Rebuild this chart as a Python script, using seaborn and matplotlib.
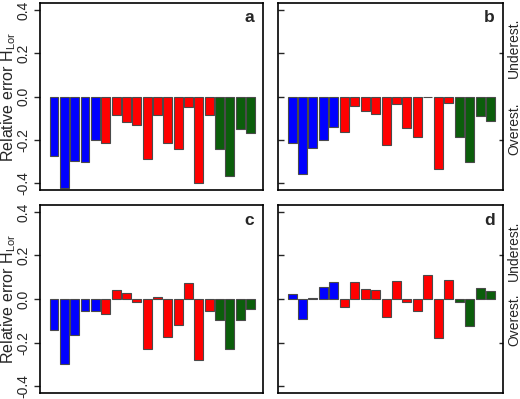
import numpy as np
import pandas as pd
import matplotlib
matplotlib.use("Agg")
import matplotlib.pyplot as plt
import seaborn as sns

# skupiny: 5 modrych, 11 cervenych, 4 zelene
groups = ["blue"] * 5 + ["red"] * 11 + ["green"] * 4

vals_a = [-0.274, -0.423, -0.296, -0.304, -0.200,
          -0.216, -0.086, -0.120, -0.131, -0.290, -0.085, -0.213, -0.243, -0.050, -0.401, -0.086,
          -0.244, -0.369, -0.152, -0.167]
vals_b = [-0.216, -0.357, -0.237, -0.200, -0.143,
          -0.166, -0.043, -0.069, -0.080, -0.226, -0.035, -0.146, -0.187, -0.003, -0.335, -0.031,
          -0.187, -0.304, -0.089, -0.115]
vals_c = [-0.144, -0.298, -0.164, -0.053, -0.056,
          -0.071, 0.041, 0.026, -0.012, -0.228, 0.009, -0.173, -0.119, 0.074, -0.281, -0.053,
          -0.096, -0.228, -0.096, -0.047]
vals_d = [0.021, -0.091, 0.003, 0.056, 0.076,
          -0.035, 0.078, 0.047, 0.041, -0.081, 0.082, -0.015, -0.053, 0.109, -0.181, 0.088,
          -0.015, -0.123, 0.049, 0.038]

panel_labels = ["a", "b", "c", "d"]
yticks = [-0.4, -0.2, 0.0, 0.2, 0.4]
ytick_labels = ["-0.4", "-0.2", "0.0", "0.2", "0.4"]
barvy = {"blue": "#0000FF", "red": "#FF0000", "green": "#0B5E0B"}

sns.set_style("white")
plt.rcParams["font.family"] = ["Liberation Sans", "DejaVu Sans"]
plt.rcParams["axes.unicode_minus"] = False

fig = plt.figure(figsize=(5.2, 3.99), dpi=100)

# pozice panelu v pixelech (vlevo, nahore, vpravo, dole)
boxy = [(40, 3, 263, 190), (278, 3, 503, 190), (40, 205, 263, 393), (278, 205, 503, 393)]
under_over = {1: (0.76, 0.326), 3: (0.755, 0.388)}

for i, vals in enumerate([vals_a, vals_b, vals_c, vals_d]):
    l, t, r, b = boxy[i]
    ax = fig.add_axes([l / 520, 1 - b / 399, (r - l) / 520, (b - t) / 399])
    df = pd.DataFrame({"idx": list(range(20)), "val": vals, "grp": groups})
    sns.barplot(data=df, x="idx", y="val", hue="grp", palette=barvy, dodge=False,
                saturation=1, width=0.86, edgecolor="#4a4a4a", linewidth=0.8,
                errorbar=None, legend=False, ax=ax)
    ax.set_xlim(-1.35, 20.2)
    ax.set_ylim(-0.432, 0.432)
    ax.set_xticks([])
    ax.set_xlabel("")
    ax.set_yticks(yticks)
    for s in ax.spines.values():
        s.set_visible(True)
        s.set_color("black")
        s.set_linewidth(1.2)
    ax.text(0.94, 0.92, panel_labels[i], transform=ax.transAxes, ha="center", va="center",
            fontsize=12.5, fontweight="bold")
    if i % 2 == 0:
        ax.set_yticklabels(ytick_labels, rotation=90, va="center", fontsize=10)
        ax.tick_params(axis="y", direction="out", length=4, width=1, pad=3, left=True)
        ax.set_ylabel("Relative error H$_{\\mathregular{Lor}}$", fontsize=11.5)
        ax.yaxis.set_label_coords(-0.10, 0.5)
    else:
        ax.set_yticklabels([])
        ax.set_ylabel("")
        ax.tick_params(axis="y", direction="in", length=4, width=1, left=True)
        sec = ax.secondary_yaxis("right")
        sec.set_yticks([0.2, -0.2])
        sec.set_yticklabels(["", ""])
        sec.tick_params(direction="in", length=3, width=1)
        sec.spines["right"].set_visible(False)
        uy, oy = under_over[i]
        ax.text(1.05, uy, "Underest.", transform=ax.transAxes, rotation=90,
                ha="center", va="center", fontsize=10)
        ax.text(1.05, oy, "Overest.", transform=ax.transAxes, rotation=90,
                ha="center", va="center", fontsize=10)

fig.savefig("out.png", dpi=100)
